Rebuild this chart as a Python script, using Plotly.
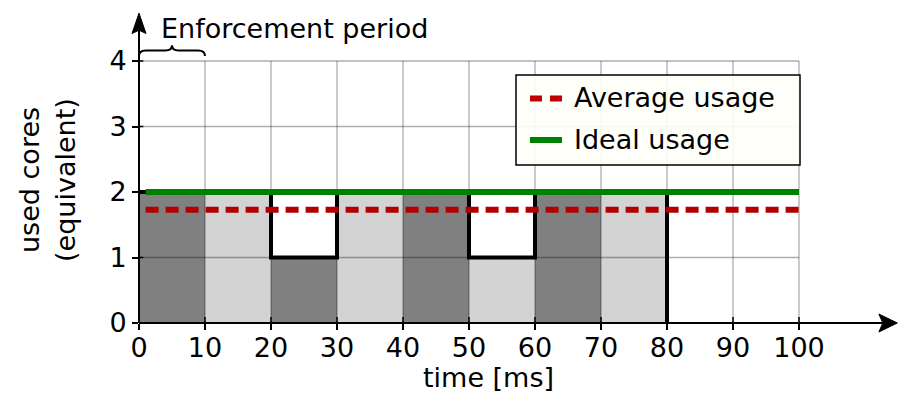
import plotly.graph_objects as go

# Core usage per 10 ms enforcement slot
slot_start = [0, 10, 20, 30, 40, 50, 60, 70]
slot_usage = [2, 2, 1, 2, 2, 1, 2, 2]
slot_shade = ["#808080", "#d3d3d3", "#808080", "#d3d3d3",
              "#808080", "#d3d3d3", "#808080", "#d3d3d3"]

# Step outline of the actual usage
profile_t = [0, 20, 20, 30, 30, 50, 50, 60, 60, 80, 80]
profile_u = [2, 2, 1, 1, 2, 2, 1, 1, 2, 2, 0]

# Reference levels
ref_t = [1, 100]
avg_usage = 1.73
ideal_usage = 2

x_ticks = [0, 10, 20, 30, 40, 50, 60, 70, 80, 90, 100]
y_ticks = [0, 1, 2, 3, 4]

FONT = "DejaVu Sans"
FS = 27

# plot area geometry (pixels)
L, R, T, B = 139, 2, 8, 71
W, H = 900, 394
PW, PH = W - L - R, H - T - B
X_MAX = PW / 6.6
Y_MAX = PH / 65.5


def px(x):
    return x / X_MAX


def py(y):
    return y / Y_MAX


def pxl(p):  # pixel column -> paper x
    return (p - L) / PW


def pyl(p):  # pixel row -> paper y
    return (H - B - p) / PH


fig = go.Figure()

# usage slots
fig.add_trace(go.Bar(
    x=[s + 5 for s in slot_start], y=slot_usage, width=10,
    marker=dict(color=slot_shade, line=dict(width=0)),
    showlegend=False, hoverinfo="skip",
))

# grid drawn on top of the slots
gx, gy = [], []
for t in x_ticks[1:]:
    gx += [t, t, None]
    gy += [0, 4, None]
for v in y_ticks[1:]:
    gx += [0, 100, None]
    gy += [v, v, None]
fig.add_trace(go.Scatter(
    x=gx, y=gy, mode="lines",
    line=dict(color="rgba(0,0,0,0.32)", width=1.3),
    showlegend=False, hoverinfo="skip",
))

fig.add_trace(go.Scatter(
    x=profile_t, y=profile_u, mode="lines",
    line=dict(color="black", width=4),
    showlegend=False, hoverinfo="skip",
))

fig.add_trace(go.Scatter(
    x=ref_t, y=[avg_usage] * 2, mode="lines", name="Average usage",
    line=dict(color="#b00000", width=6, dash="13px,7px"),
    showlegend=False,
))
fig.add_trace(go.Scatter(
    x=ref_t, y=[ideal_usage] * 2, mode="lines", name="Ideal usage",
    line=dict(color="#008000", width=6),
    showlegend=False,
))

shapes = []
# axis lines with arrowheads
shapes.append(dict(type="line", xref="paper", yref="paper",
                   x0=0, y0=0, x1=px(112.7), y1=0,
                   line=dict(color="black", width=2)))
shapes.append(dict(type="line", xref="paper", yref="paper",
                   x0=0, y0=0, x1=0, y1=py(4.47),
                   line=dict(color="black", width=2)))
hx = py(0.137)
shapes.append(dict(
    type="path", xref="paper", yref="paper",
    path=f"M {px(114.9)},0 L {px(112.1)},{hx} L {px(112.7)},0 L {px(112.1)},{-hx} Z",
    fillcolor="black", line=dict(color="black", width=1)))
hy = px(1.06)
shapes.append(dict(
    type="path", xref="paper", yref="paper",
    path=f"M 0,{py(4.73)} L {hy},{py(4.42)} L 0,{py(4.47)} L {-hy},{py(4.42)} Z",
    fillcolor="black", line=dict(color="black", width=1)))

# tick marks reaching inside the axes as well
for t in x_ticks:
    shapes.append(dict(type="line", xref="paper", yref="paper",
                       x0=px(t), x1=px(t), y0=0, y1=py(0.09),
                       line=dict(color="black", width=1.5)))
for v in y_ticks:
    shapes.append(dict(type="line", xref="paper", yref="paper",
                       x0=0, x1=px(0.65), y0=py(v), y1=py(v),
                       line=dict(color="black", width=1.5)))

# brace marking one enforcement period
b0, b1, b2 = py(4.075), py(4.16), py(4.24)
shapes.append(dict(
    type="path", xref="paper", yref="paper",
    path=(f"M {px(0)},{b0} Q {px(0)},{b1} {px(1)},{b1} L {px(4)},{b1} "
          f"Q {px(5)},{b1} {px(5)},{b2} Q {px(5)},{b1} {px(6)},{b1} "
          f"L {px(9)},{b1} Q {px(10)},{b1} {px(10)},{b0}"),
    line=dict(color="black", width=2)))

# legend box
shapes.append(dict(type="rect", xref="paper", yref="paper",
                   x0=pxl(516), x1=pxl(800), y0=pyl(165), y1=pyl(75),
                   fillcolor="rgba(255,255,248,0.9)",
                   line=dict(color="black", width=1.5)))
shapes.append(dict(type="line", xref="paper", yref="paper",
                   x0=pxl(530), x1=pxl(562), y0=pyl(98.5), y1=pyl(98.5),
                   line=dict(color="#c00000", width=6, dash="12px,8px")))
shapes.append(dict(type="line", xref="paper", yref="paper",
                   x0=pxl(530), x1=pxl(562), y0=pyl(140), y1=pyl(140),
                   line=dict(color="#008000", width=6)))

annotations = [
    dict(text="Average usage", xref="paper", yref="paper",
         x=pxl(572), y=pyl(97), xanchor="left", yanchor="middle",
         showarrow=False, font=dict(family=FONT, size=FS, color="black")),
    dict(text="Ideal usage", xref="paper", yref="paper",
         x=pxl(572), y=pyl(139), xanchor="left", yanchor="middle",
         showarrow=False, font=dict(family=FONT, size=FS, color="black")),
    dict(text="Enforcement period", xref="paper", yref="paper",
         x=pxl(159), y=pyl(29), xanchor="left", yanchor="middle",
         showarrow=False, font=dict(family=FONT, size=FS, color="black")),
    dict(text="time [ms]", xref="paper", yref="paper",
         x=pxl(488), y=pyl(377), xanchor="center", yanchor="middle",
         showarrow=False, font=dict(family=FONT, size=FS, color="black")),
    dict(text="used cores", xref="paper", yref="paper", textangle=-90,
         x=pxl(29), y=pyl(180), xanchor="center", yanchor="middle",
         showarrow=False, font=dict(family=FONT, size=FS, color="black")),
    dict(text="(equivalent)", xref="paper", yref="paper", textangle=-90,
         x=pxl(65), y=pyl(180), xanchor="center", yanchor="middle",
         showarrow=False, font=dict(family=FONT, size=FS, color="black")),
]

fig.update_layout(
    width=W, height=H,
    margin=dict(l=L, r=R, t=T, b=B, autoexpand=False),
    paper_bgcolor="white", plot_bgcolor="white",
    showlegend=False,
    shapes=shapes, annotations=annotations,
    font=dict(family=FONT, size=FS, color="black"),
    xaxis=dict(range=[0, X_MAX], tickvals=x_ticks,
               ticktext=[str(t) for t in x_ticks],
               showgrid=False, zeroline=False, showline=False,
               ticks="outside", ticklen=6, tickwidth=1.5, tickcolor="black",
               ticklabelstandoff=-5,
               tickfont=dict(family=FONT, size=FS, color="black"),
               fixedrange=True),
    yaxis=dict(range=[0, Y_MAX], tickvals=y_ticks,
               ticktext=[str(t) for t in y_ticks],
               showgrid=False, zeroline=False, showline=False,
               ticks="outside", ticklen=6, tickwidth=1.5, tickcolor="black",
               tickfont=dict(family=FONT, size=FS, color="black"),
               fixedrange=True),
)

fig.write_html("out.html")
